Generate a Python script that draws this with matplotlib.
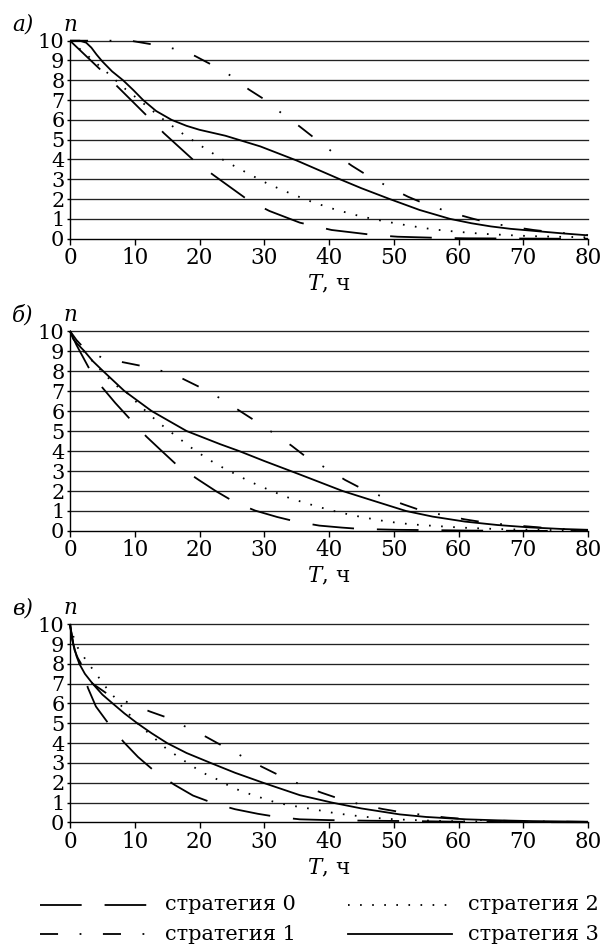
import matplotlib
matplotlib.use('Agg')
import matplotlib.pyplot as plt

plt.rcParams['font.family'] = ['DejaVu Serif']
plt.rcParams['mathtext.fontset'] = 'dejavuserif'
plt.rcParams['lines.scale_dashes'] = False

# ---- panel а) ----
a_t0 = [0, 4.66, 7.25, 11.9, 14.5, 19.3, 22.3, 27.6, 30.8, 35.5, 40.4, 47.1, 50.6, 57.1, 61.2, 68, 75, 80]
a_n0 = [10, 8.55, 7.71, 6.2, 5.33, 3.9, 3.18, 1.93, 1.4, 0.81, 0.44, 0.18, 0.1, 0.04, 0.02, 0.01, 0.0, 0.0]
a_t1 = [0, 6, 8, 9.7, 12.4, 16, 19.3, 21.8, 24.9, 27.6, 30, 32.7, 35.5, 37.8, 40.6, 43.5, 45.8, 49.1,
        52.2, 54.9, 58.5, 62, 64.6, 68.1, 71.6, 74.3, 77.7, 80]
a_n1 = [10, 10, 10, 9.98, 9.83, 9.6, 9.23, 8.8, 8.22, 7.54, 7.04, 6.33, 5.66, 5.07, 4.36, 3.69, 3.22, 2.63,
        2.12, 1.75, 1.35, 1.03, 0.81, 0.61, 0.44, 0.34, 0.24, 0.18]
a_t2 = [0, 2, 4, 5.7, 8.55, 11.5, 14.5, 17.5, 20.7, 23.9, 27.3, 30.5, 34, 37.6, 41.2, 44.9, 48.6, 52.3,
        56.1, 59.8, 63.6, 67.4, 71.1, 75, 80]
a_n2 = [10, 9.45, 8.88, 8.4, 7.56, 6.79, 6.0, 5.28, 4.59, 3.93, 3.33, 2.78, 2.29, 1.83, 1.45, 1.13, 0.875, 0.66,
        0.47, 0.35, 0.25, 0.185, 0.13, 0.1, 0.07]
a_t3 = [0, 1.5, 2.5, 3.3, 4.1, 5, 6.5, 8.2, 9.8, 11.3, 13.3, 15.7, 18, 20, 24, 29.4, 35, 41.7, 45, 49.4,
        54, 58.7, 62, 65, 68, 71.8, 76, 80]
a_n3 = [10, 10, 9.9, 9.65, 9.3, 8.95, 8.45, 8.0, 7.5, 7.0, 6.45, 6.0, 5.7, 5.5, 5.2, 4.66, 3.95, 3.0, 2.55,
        2.0, 1.45, 1.0, 0.78, 0.62, 0.5, 0.39, 0.27, 0.17]

# ---- panel б) ----
b_t0 = [0, 1, 2, 3, 5, 7, 9.4, 11.8, 14, 16.6, 19.9, 22.5, 25.5, 28.6, 32, 34.9, 38.5, 42, 45, 50.5, 57, 62, 70, 80]
b_n0 = [10, 9.3, 8.7, 8.1, 7.17, 6.4, 5.55, 4.72, 4.05, 3.27, 2.55, 2.0, 1.43, 1.02, 0.7, 0.47, 0.27, 0.17, 0.1,
        0.06, 0.04, 0.02, 0.01, 0.0]
b_t1 = [0, 1, 2, 3, 4.6, 6, 8, 10.8, 14, 17.3, 20, 23, 26, 28.4, 31.3, 34.2, 36.4, 39.4, 42.5, 45, 48.2, 51.6,
        54.3, 57.6, 61, 64, 67.3, 71, 73.6, 77, 80]
b_n1 = [10, 9.55, 9.2, 9.0, 8.72, 8.55, 8.45, 8.27, 8.02, 7.63, 7.2, 6.67, 6.05, 5.55, 4.92, 4.27, 3.72, 3.17,
        2.55, 2.13, 1.72, 1.32, 1.02, 0.8, 0.58, 0.43, 0.32, 0.22, 0.15, 0.08, 0.05]
b_t2 = [0, 1, 2.2, 5, 7, 9, 10.4, 11.8, 13.2, 14.7, 16.2, 17.7, 19.2, 20.8, 22.4, 24, 25.7, 27.3, 29.1, 30.8,
        32.5, 34.3, 36.1, 37.9, 39.8, 41.6, 43.5, 45.3, 47.1, 49, 52.8, 56.5, 60.4, 64.1, 68, 72, 76, 80]
b_n2 = [10, 9.4, 8.95, 7.95, 7.3, 6.86, 6.4, 5.97, 5.56, 5.16, 4.79, 4.42, 4.05, 3.71, 3.38, 3.1, 2.82, 2.55,
        2.28, 2.05, 1.82, 1.6, 1.43, 1.25, 1.08, 0.93, 0.8, 0.68, 0.58, 0.47, 0.33, 0.25, 0.17, 0.12, 0.08, 0.06,
        0.04, 0.03]
b_t3 = [0, 0.5, 1, 2.2, 3.5, 5.1, 8.4, 12.6, 18, 23.2, 26.1, 30, 35.3, 42.1, 46, 51.9, 56, 61, 66, 71, 76, 80]
b_n3 = [10, 9.6, 9.4, 9.0, 8.5, 8.0, 7.0, 6.0, 5.0, 4.34, 4.0, 3.5, 2.85, 2.0, 1.6, 1.0, 0.72, 0.47, 0.3, 0.18,
        0.1, 0.06]

# ---- panel в) ----
c_t0 = [0, 0.3, 0.7, 1.2, 1.9, 2.75, 4, 6, 8.3, 10.5, 13.1, 16.1, 19, 22.1, 25.5, 29, 32, 35.5, 40, 46, 53, 60,
        70, 80]
c_n0 = [10, 9.3, 8.7, 8.3, 7.9, 6.8, 5.85, 4.96, 4.05, 3.3, 2.57, 1.9, 1.35, 0.97, 0.66, 0.43, 0.27, 0.15, 0.11,
        0.08, 0.06, 0.03, 0.01, 0.0]
c_t1 = [0, 0.5, 1.5, 3.5, 5.7, 9, 12.3, 14.9, 17.9, 21, 23.6, 26.6, 29.6, 32.2, 35.5, 38.8, 41.6, 44.9, 48.3,
        51, 54.6, 58.1, 60.8, 64.5, 70, 80]
c_n1 = [10, 9.0, 8.0, 7.0, 6.5, 6.05, 5.6, 5.3, 4.82, 4.32, 3.85, 3.33, 2.81, 2.39, 1.92, 1.5, 1.19, 0.9, 0.67,
        0.52, 0.37, 0.24, 0.17, 0.1, 0.05, 0.02]
c_t2 = [0, 0.5, 1.2, 2.2, 3.3, 4.45, 5.6, 6.8, 8, 9.3, 10.6, 12, 13.5, 14.9, 16.5, 18, 19.6, 21.3, 23.1, 24.6,
        26.4, 28.2, 30, 31.8, 33.7, 37.4, 41.1, 44.9, 48.6, 52.4, 56, 60, 70, 80]
c_n2 = [10, 9.4, 8.82, 8.32, 7.82, 7.31, 6.8, 6.34, 5.85, 5.4, 4.95, 4.54, 4.12, 3.71, 3.36, 3.03, 2.69, 2.37,
        2.12, 1.83, 1.58, 1.38, 1.19, 1.0, 0.87, 0.67, 0.45, 0.3, 0.18, 0.12, 0.08, 0.05, 0.02, 0.01]
c_t3 = [0, 0.25, 0.52, 1, 1.45, 2.3, 3.5, 5, 6.6, 8.4, 10.4, 12.6, 15, 18, 21.7, 25.5, 29.8, 35.5, 40.4, 45,
        50.9, 55, 61.2, 66, 71.5, 80]
c_n3 = [10, 9.5, 9.0, 8.4, 8.0, 7.5, 7.0, 6.45, 6.0, 5.5, 5.0, 4.5, 4.0, 3.5, 3.0, 2.5, 2.0, 1.37, 1.0, 0.7,
        0.4, 0.27, 0.15, 0.1, 0.06, 0.03]

panel_letters = ['а)', 'б)', 'в)']
legend_labels = ['стратегия 0', 'стратегия 1', 'стратегия 2', 'стратегия 3']

# line styles for strategies 0..3 (dash lengths in points)
styles = [dict(dashes=(30, 16.5)),
          dict(dashes=(13, 15.5, 1.3, 15.5)),
          dict(dashes=(1.2, 7.5)),
          dict(linestyle='-')]

W, H = 603, 949
fig = plt.figure(figsize=(W / 100, H / 100), dpi=100)

# axes boxes in pixels: (top of n=10, bottom of n=0)
boxes = [(40.7, 238.7), (331.0, 531.0), (624.3, 822.3)]
left_px, right_px = 70, 588

panels = [
    [(a_t0, a_n0), (a_t1, a_n1), (a_t2, a_n2), (a_t3, a_n3)],
    [(b_t0, b_n0), (b_t1, b_n1), (b_t2, b_n2), (b_t3, b_n3)],
    [(c_t0, c_n0), (c_t1, c_n1), (c_t2, c_n2), (c_t3, c_n3)],
]

for (top, bot), series, letter in zip(boxes, panels, panel_letters):
    ax = fig.add_axes([left_px / W, 1 - bot / H, (right_px - left_px) / W, (bot - top) / H])
    for k in range(1, 11):
        ax.axhline(k, color='#222222', lw=0.95, clip_on=False, zorder=1)
    for (t, n), st in zip(series, styles):
        ax.plot(t, n, color='black', lw=1.3, solid_capstyle='butt', dash_capstyle='butt',
                clip_on=False, zorder=3, **st)
    ax.set_xlim(0, 80)
    ax.set_ylim(0, 10)
    ax.set_xticks(range(0, 81, 10))
    ax.set_yticks(range(0, 11))
    for s in ['top', 'right']:
        ax.spines[s].set_visible(False)
    ax.spines['left'].set_linewidth(1.0)
    ax.spines['bottom'].set_linewidth(1.0)
    ax.tick_params(axis='x', direction='out', length=4.5, width=1, labelsize=15.5, pad=1.5)
    ax.tick_params(axis='y', direction='out', length=2.5, width=1, labelsize=15, pad=1.5)
    ax.annotate(r'$T$, ч', xy=(0.5, 0), xycoords='axes fraction', xytext=(0, -33),
                textcoords='offset points', ha='center', va='center', fontsize=15.5)
    ax.annotate('n', xy=(0, 1), xycoords='axes fraction', xytext=(0, 11.5),
                textcoords='offset points', ha='center', va='center', fontsize=15.5, fontstyle='italic')
    ax.annotate(letter, xy=(0, 1), xycoords='axes fraction', xytext=(-34, 11.5),
                textcoords='offset points', ha='center', va='center', fontsize=15.5, fontstyle='italic')

# legend drawn in pixel coordinates
lax = fig.add_axes([0, 0, 1, 1])
lax.set_xlim(0, W)
lax.set_ylim(H, 0)
lax.axis('off')
lax.patch.set_alpha(0)

rows = [(905, 0, 2), (934, 1, 3)]
for y, k_left, k_right in rows:
    lax.plot([40, 147], [y, y], color='black', lw=1.3, dash_capstyle='butt', **styles[k_left])
    lax.text(165, y, legend_labels[k_left], ha='left', va='center', fontsize=15)
    lax.plot([348, 452], [y, y], color='black', lw=1.3, dash_capstyle='butt', **styles[k_right])
    lax.text(468, y, legend_labels[k_right], ha='left', va='center', fontsize=15)

fig.savefig('out.png', dpi=100)
